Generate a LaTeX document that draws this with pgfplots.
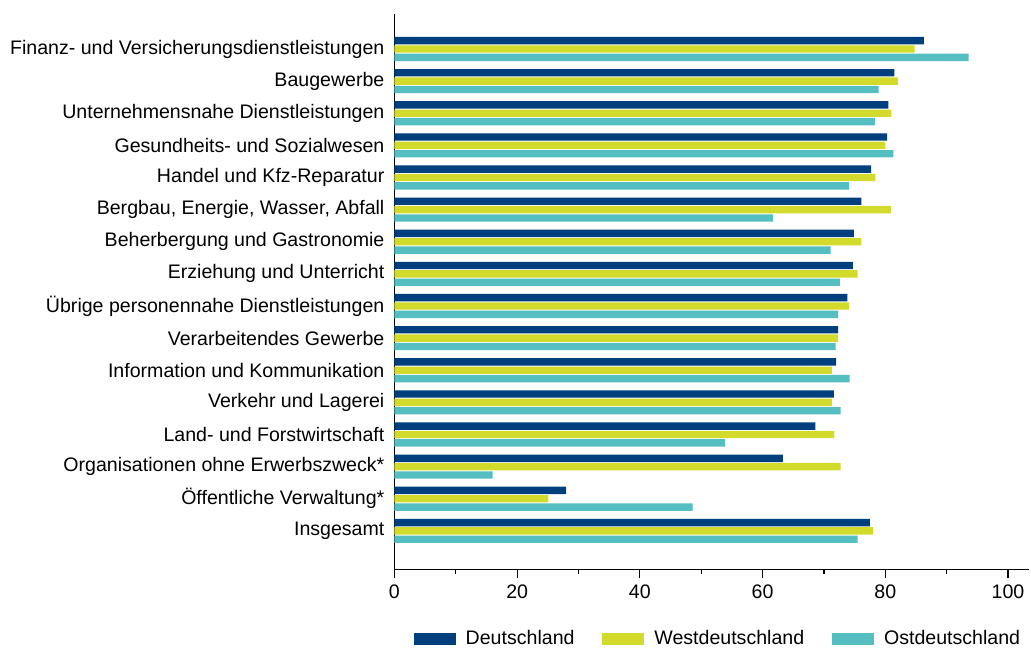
\documentclass[border=0pt]{standalone}
\usepackage{fontspec}
\setmainfont{Liberation Sans}
\usepackage{pgfplots}
\pgfplotsset{compat=1.18}

\definecolor{dblue}{RGB}{0,63,125}
\definecolor{wgreen}{RGB}{210,218,44}
\definecolor{oteal}{RGB}{84,190,192}

\pgfplotsset{
  boxlegend/.style={legend image code/.code={\fill[##1] (0pt,-3pt) rectangle (21pt,3pt);}}
}

\begin{document}
\begin{tikzpicture}[font=\fontsize{9.8}{11}\selectfont]
\begin{axis}[
  name=ax,
  scale only axis,
  width=318pt, height=278pt,
  xbar, bar width=0.23,
  xmin=0, xmax=103.5,
  ymin=-1.19, ymax=16.09,
  axis x line*=bottom, axis y line*=left,
  axis line style={line width=0.6pt, -},
  xtick={0,20,...,100}, minor xtick={10,30,...,90},
  tick align=outside,
  major tick length=4.5pt, minor tick length=2.5pt,
  x tick style={black, line width=0.6pt},
  minor x tick style={black, line width=0.6pt},
  /pgf/number format/assume math mode=true,
  ytick={0,...,15},
  yticklabels={Insgesamt, Öffentliche Verwaltung*, Organisationen ohne Erwerbszweck*,
    Land- und Forstwirtschaft, Verkehr und Lagerei, Information und Kommunikation,
    Verarbeitendes Gewerbe, Übrige personennahe Dienstleistungen, Erziehung und Unterricht,
    Beherbergung und Gastronomie, {Bergbau, Energie, Wasser, Abfall}, Handel und Kfz-Reparatur,
    Gesundheits- und Sozialwesen, Unternehmensnahe Dienstleistungen, Baugewerbe,
    Finanz- und Versicherungsdienstleistungen},
  yticklabel style={xshift=3pt},
  y tick style={draw=none},
  legend columns=3,
  legend cell align=left,
  legend style={draw=none, at={(0.5,0)}, anchor=center, yshift=-35pt, xshift=3.5pt,
    /tikz/every even column/.append style={column sep=12pt},
    /tikz/every odd column/.append style={column sep=3pt}},
]
% Deutschland
\addplot[fill=dblue, draw=none, bar shift=0.26, boxlegend] coordinates {
(77.5,0) (28.0,1) (63.3,2) (68.6,3) (71.6,4) (72.0,5) (72.3,6) (73.8,7)
(74.7,8) (74.9,9) (76.1,10) (77.7,11) (80.3,12) (80.5,13) (81.5,14) (86.3,15)};
\addlegendentry{Deutschland}
% Westdeutschland
\addplot[fill=wgreen, draw=none, bar shift=0, boxlegend] coordinates {
(78.0,0) (25.1,1) (72.7,2) (71.7,3) (71.3,4) (71.3,5) (72.3,6) (74.1,7)
(75.5,8) (76.1,9) (80.9,10) (78.4,11) (80.0,12) (81.0,13) (82.1,14) (84.8,15)};
\addlegendentry{Westdeutschland}
% Ostdeutschland
\addplot[fill=oteal, draw=none, bar shift=-0.26, boxlegend] coordinates {
(75.5,0) (48.6,1) (16.0,2) (53.9,3) (72.7,4) (74.2,5) (71.9,6) (72.3,7)
(72.6,8) (71.1,9) (61.7,10) (74.1,11) (81.3,12) (78.3,13) (78.9,14) (93.6,15)};
\addlegendentry{Ostdeutschland}
\end{axis}
\path ([shift={(-197.5pt,-40pt)}]ax.south west) rectangle ([shift={(0pt,7pt)}]ax.north east);
\end{tikzpicture}
\end{document}
